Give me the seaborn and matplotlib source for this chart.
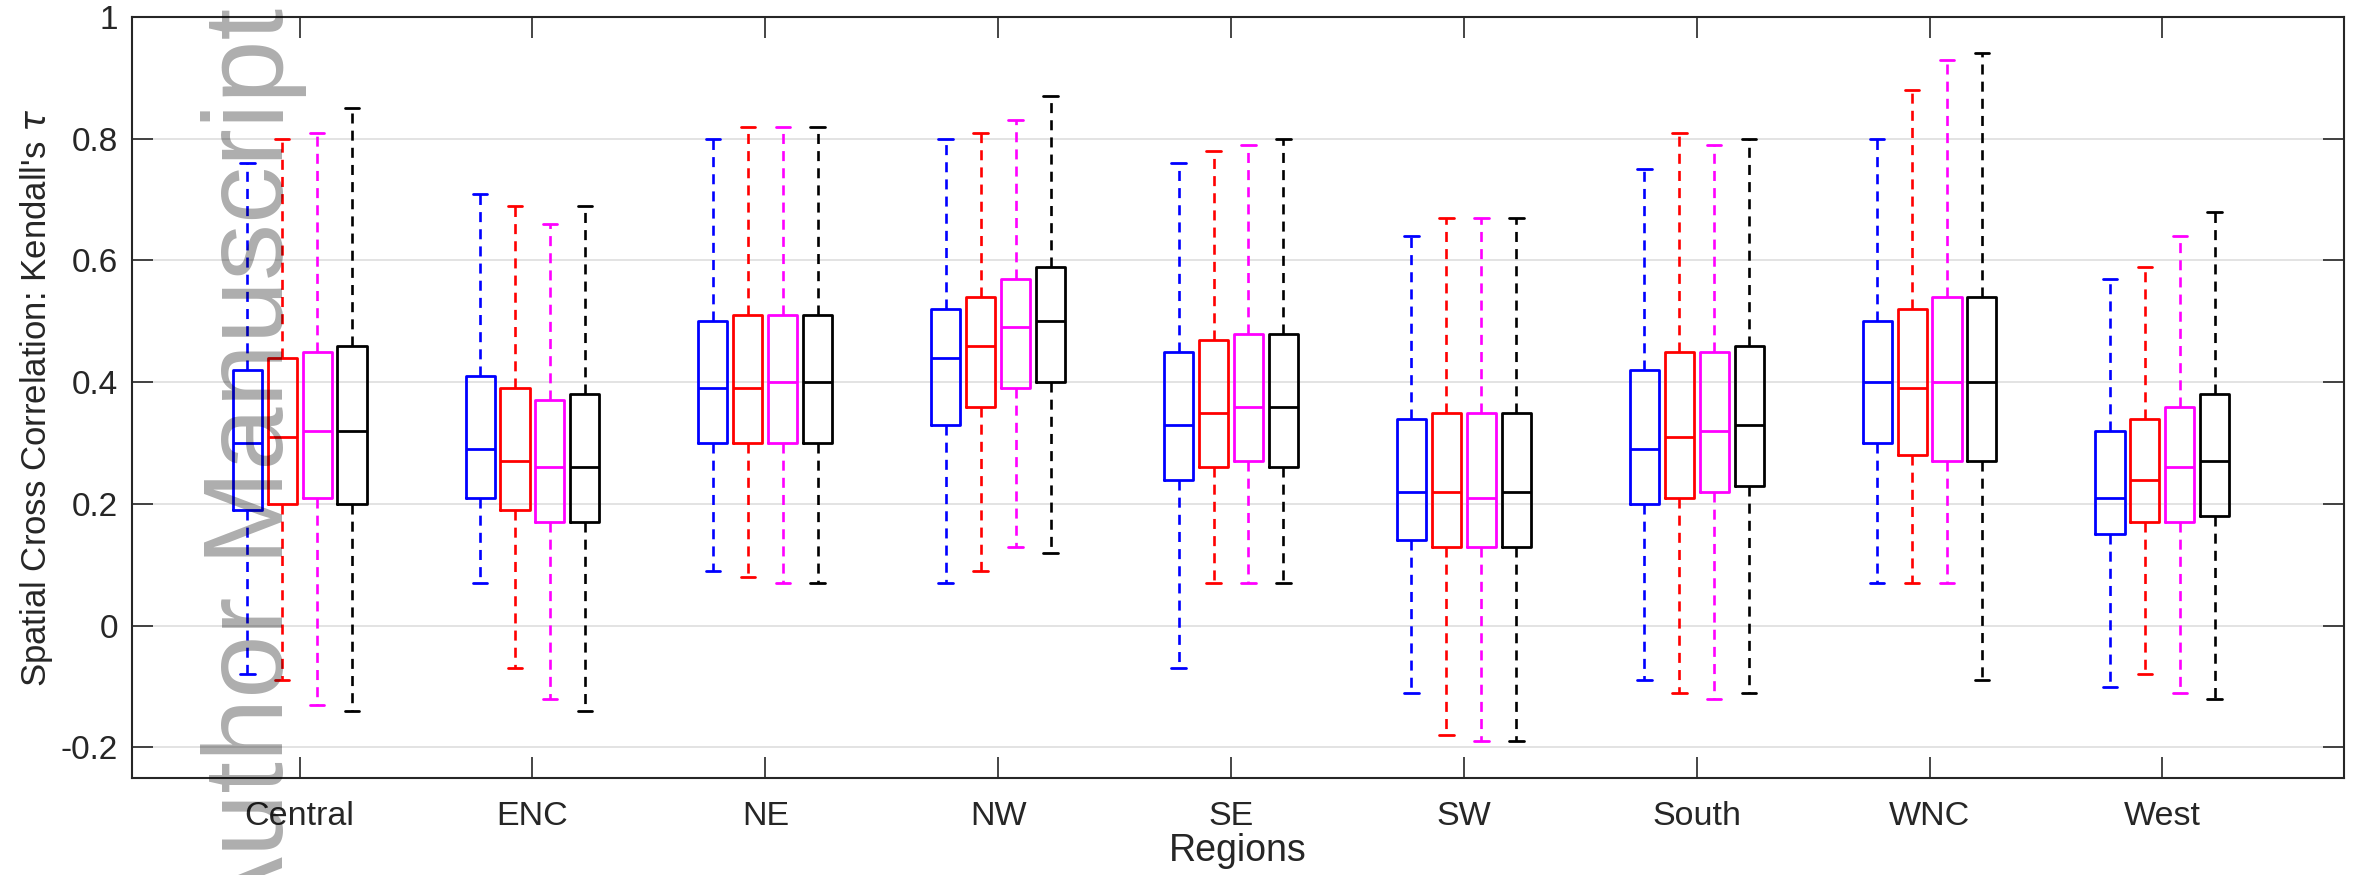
import matplotlib
matplotlib.use("Agg")
import matplotlib.pyplot as plt
import seaborn as sns

sns.set_style("ticks")
plt.rcParams["font.family"] = ["Liberation Sans", "DejaVu Sans"]
plt.rcParams["mathtext.fontset"] = "dejavusans"

regions = ["Central", "ENC", "NE", "NW", "SE", "SW", "South", "WNC", "West"]
colors = ["#0000ff", "#ff0000", "#ff00ff", "#000000"]

# one row per series (blue, red, magenta, black), one value per region
whis_lo = [[-0.08, 0.07, 0.09, 0.07, -0.07, -0.11, -0.09, 0.07, -0.10],
           [-0.09, -0.07, 0.08, 0.09, 0.07, -0.18, -0.11, 0.07, -0.08],
           [-0.13, -0.12, 0.07, 0.13, 0.07, -0.19, -0.12, 0.07, -0.11],
           [-0.14, -0.14, 0.07, 0.12, 0.07, -0.19, -0.11, -0.09, -0.12]]
q1 = [[0.19, 0.21, 0.30, 0.33, 0.24, 0.14, 0.20, 0.30, 0.15],
      [0.20, 0.19, 0.30, 0.36, 0.26, 0.13, 0.21, 0.28, 0.17],
      [0.21, 0.17, 0.30, 0.39, 0.27, 0.13, 0.22, 0.27, 0.17],
      [0.20, 0.17, 0.30, 0.40, 0.26, 0.13, 0.23, 0.27, 0.18]]
med = [[0.30, 0.29, 0.39, 0.44, 0.33, 0.22, 0.29, 0.40, 0.21],
       [0.31, 0.27, 0.39, 0.46, 0.35, 0.22, 0.31, 0.39, 0.24],
       [0.32, 0.26, 0.40, 0.49, 0.36, 0.21, 0.32, 0.40, 0.26],
       [0.32, 0.26, 0.40, 0.50, 0.36, 0.22, 0.33, 0.40, 0.27]]
q3 = [[0.42, 0.41, 0.50, 0.52, 0.45, 0.34, 0.42, 0.50, 0.32],
      [0.44, 0.39, 0.51, 0.54, 0.47, 0.35, 0.45, 0.52, 0.34],
      [0.45, 0.37, 0.51, 0.57, 0.48, 0.35, 0.45, 0.54, 0.36],
      [0.46, 0.38, 0.51, 0.59, 0.48, 0.35, 0.46, 0.54, 0.38]]
whis_hi = [[0.76, 0.71, 0.80, 0.80, 0.76, 0.64, 0.75, 0.80, 0.57],
           [0.80, 0.69, 0.82, 0.81, 0.78, 0.67, 0.81, 0.88, 0.59],
           [0.81, 0.66, 0.82, 0.83, 0.79, 0.67, 0.79, 0.93, 0.64],
           [0.85, 0.69, 0.82, 0.87, 0.80, 0.67, 0.80, 0.94, 0.68]]

yticks = [-0.2, 0, 0.2, 0.4, 0.6, 0.8, 1]
ytick_labels = ["-0.2", "0", "0.2", "0.4", "0.6", "0.8", "1"]

fig = plt.figure(figsize=(23.61, 8.75), dpi=100)
ax = fig.add_axes([0.0559, 0.111, 0.9369, 0.8696])

offsets = [-0.225, -0.075, 0.075, 0.225]
for s in range(4):
    stats = []
    for i in range(len(regions)):
        stats.append({"whislo": whis_lo[s][i], "q1": q1[s][i], "med": med[s][i],
                      "q3": q3[s][i], "whishi": whis_hi[s][i], "fliers": []})
    pos = [i + offsets[s] for i in range(len(regions))]
    c = colors[s]
    ax.bxp(stats, positions=pos, widths=0.125, showfliers=False, manage_ticks=False,
           boxprops=dict(color=c, linewidth=2.0),
           medianprops=dict(color=c, linewidth=2.0),
           whiskerprops=dict(color=c, linewidth=1.9, linestyle=(0, (3.8, 2.7))),
           capprops=dict(color=c, linewidth=2.0))

ax.set_xlim(-0.72, 8.78)
ax.set_ylim(-0.25, 1)
ax.set_xticks(range(len(regions)))
ax.set_xticklabels(regions, fontsize=24.5)
ax.set_yticks(yticks)
ax.set_yticklabels(ytick_labels, fontsize=24)
ax.yaxis.grid(True, color="#e0e0e0", linewidth=1.3)
ax.set_axisbelow(True)
ax.tick_params(direction="in", length=15, width=1.2, color="#262626",
               top=True, right=True, labelcolor="#262626")
ax.tick_params(axis="x", pad=16.5)
ax.tick_params(axis="y", pad=10)
for sp in ax.spines.values():
    sp.set_color("#262626")
    sp.set_linewidth(1.5)

ax.set_xlabel("Regions", fontsize=27, color="#262626", labelpad=1)
ax.set_ylabel("Spatial Cross Correlation: Kendall's $\\tau$", fontsize=25,
              color="#262626", labelpad=4)

# watermark stamped over the page
fig.text(283 / 2361, 1 - 932 / 875, "Author Manuscript", rotation=90,
         rotation_mode="anchor", ha="left", va="baseline",
         fontsize=82, color="black", alpha=0.32, zorder=10)

fig.savefig("out.png", dpi=100)
